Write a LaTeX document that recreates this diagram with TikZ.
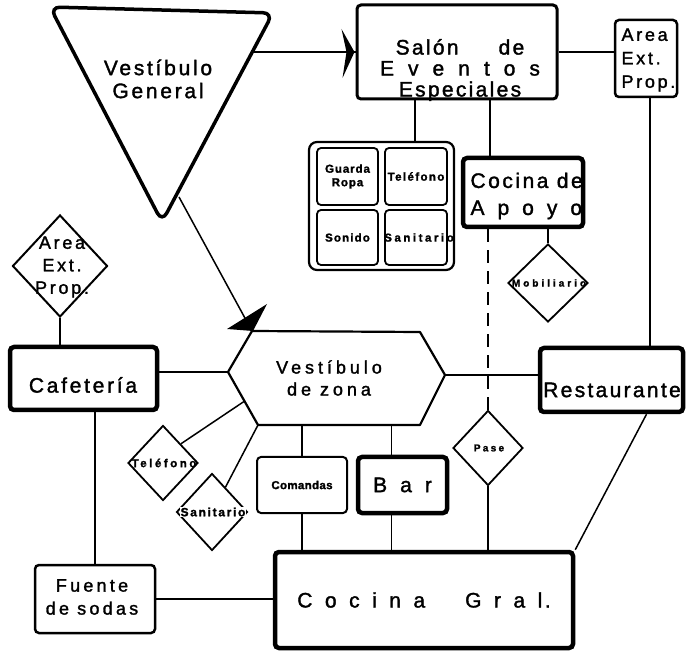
\documentclass[tikz,border=0pt]{standalone}
\usepackage{fontspec}
\setmainfont{Liberation Sans}[FakeBold=1.6]
\usetikzlibrary{shapes.geometric,calc}
\newcommand\lsp[1]{\addfontfeature{LetterSpace=#1}}
\newcommand\wsp[1]{\spaceskip=#1pt\relax}
\begin{document}
\begin{tikzpicture}[x=1pt,y=-1pt,
  box/.style={draw, rounded corners=4pt, inner sep=0pt, align=center},
  dia/.style={draw, diamond, inner sep=0pt, line width=1.8pt},
  conn/.style={line width=1.5pt},
  fbig/.style={font=\fontsize{21}{24}\selectfont\lsp{#1}},
  fsmall/.style={font=\fontsize{11.5}{13.5}\selectfont\bfseries\lsp{#1}},
]
\useasboundingbox (0,0) rectangle (686,652);

% Vestibulo General (triangle)
\coordinate (vgA) at (50,7);
\coordinate (vgB) at (273,13);
\coordinate (vgC) at (162,222);
\draw[line width=3.5pt, rounded corners=10pt] ($(vgA)!0.5!(vgB)$) -- (vgB) -- (vgC) -- (vgA) -- cycle;
\node[font=\fontsize{21}{23}\selectfont\lsp{13}, align=center] (vg) at (158,79) {Vestíbulo\\General};
\coordinate (vgE) at (253,52);
\coordinate (vgS) at (179,197);

% Salon de Eventos Especiales
\node[box, line width=3pt, minimum width=200pt, minimum height=94pt] (salon) at (457,52) {};
\node[font=\fontsize{21}{21}\selectfont\lsp{11}, align=center] (salonT) at (460,70) {Salón\hspace{40pt}de\\\wsp{14}E v e n t o s\\Especiales};

% Area Ext. Prop. (right)
\node[box, line width=2.5pt, minimum width=62pt, minimum height=77pt] (areaR) at (646,58.5) {};
\node[font=\fontsize{18}{23.5}\selectfont\lsp{15}, align=left, anchor=west] (areaRT) at (618,60) {Area\\Ext.\\Prop.};

% group of four
\node[box, line width=2.2pt, rounded corners=8pt, minimum width=145pt, minimum height=128pt] (grp) at (381.5,206) {};
\node[box, line width=1.8pt, minimum width=61pt, minimum height=57pt, fsmall=8] (guarda) at (347.5,176.5) {Guarda\\Ropa};
\node[box, line width=1.8pt, minimum width=62pt, minimum height=57pt, fsmall=12] (telefG) at (416,176.5) {\makebox[0pt]{Teléfono}};
\node[box, line width=1.8pt, minimum width=61pt, minimum height=55pt, fsmall=10] (sonido) at (347.5,237.5) {Sonido};
\node[box, line width=1.8pt, minimum width=62pt, minimum height=55pt, fsmall=22] (sanitG) at (416,237.5) {\makebox[0pt]{\hspace{6pt}Sanitario}};

% Cocina de Apoyo
\node[box, line width=4.5pt, minimum width=120pt, minimum height=69pt] (apoyo) at (523,192.5) {};
\node[font=\fontsize{21}{27}\selectfont\lsp{12}, align=left, anchor=west] (apoyoT) at (467,196) {Cocina de\\\wsp{13}A p o y o};

% Mobiliario
\node[dia, minimum width=80pt, minimum height=78pt] (mobil) at (548,283) {};
\node[font=\fontsize{10}{12}\selectfont\bfseries\lsp{30}] (mobilT) at (549,283) {Mobiliario};

% Pase
\node[dia, minimum width=70pt, minimum height=75pt] (pase) at (488,448) {};
\node[font=\fontsize{10}{12}\selectfont\bfseries\lsp{23}] (paseT) at (489,448) {Pase};

% Cocina Gral.
\node[box, line width=4.5pt, minimum width=298pt, minimum height=96pt, font=\fontsize{21}{24}\selectfont\lsp{12}] (gral) at (424,600) {\wsp{12.5}C o c i n a\hspace{40pt}G r a l.};

% Restaurante
\node[box, line width=4.5pt, minimum width=143pt, minimum height=64pt] (rest) at (611.5,380) {};
\node[fbig=11] (restT) at (612,390) {Restaurante};

% Cafeteria
\node[box, line width=4.5pt, minimum width=147pt, minimum height=63pt] (cafe) at (83.5,378.5) {};
\node[fbig=13] (cafeT) at (83,385) {Cafetería};

% Vestibulo de zona (hexagon)
\coordinate (hA) at (252,331);
\coordinate (hB) at (420,332);
\coordinate (hC) at (445,375);
\coordinate (hD) at (420,425);
\coordinate (hE) at (258,425);
\coordinate (hF) at (228,372);
\draw[line width=2.2pt, line join=round] (hA) -- (hB) -- (hC) -- (hD) -- (hE) -- (hF) -- cycle;
\node[font=\fontsize{18}{22}\selectfont\lsp{22}, align=center] (vz) at (329,378) {Vestíbulo\\de zona};

% Area Ext. Prop. (left diamond)
\node[dia, line width=2pt, minimum width=95pt, minimum height=102pt] (areaL) at (60,266) {};
\node[font=\fontsize{18}{22.5}\selectfont\lsp{15}, align=center] (areaLT) at (62,267) {Area\\Ext.\\Prop.};

% Fuente de sodas
\node[box, line width=2.5pt, minimum width=120pt, minimum height=68pt] (fuente) at (95,599) {};
\node[font=\fontsize{18}{23}\selectfont\lsp{18}, align=center] (fuenteT) at (92,597) {Fuente\\de sodas};

% Telefono / Sanitario diamonds
\node[dia, minimum width=70pt, minimum height=75pt] (telef2) at (163,463) {};
\node[font=\fontsize{11.5}{13}\selectfont\bfseries\lsp{22}] (telef2T) at (164,463) {Teléfono};
\node[dia, minimum width=71pt, minimum height=77pt] (sanit2) at (212,512) {};
\node[font=\fontsize{12}{14}\selectfont\bfseries\lsp{14}, fill=white, inner sep=1pt] (sanit2T) at (213,512) {Sanitario};

% Comandas, Bar
\node[box, line width=2pt, minimum width=90pt, minimum height=56pt, fsmall=3] (comandas) at (302,485) {Comandas};
\node[box, line width=4.5pt, minimum width=89pt, minimum height=56pt, font=\fontsize{21}{24}\selectfont\lsp{12}] (bar) at (402.5,485) {\wsp{13}B a r};

% connectors
\draw[conn] (vgE) -- (salon.west);
\fill[shift={(salon.west)}] (-14,-23) -- (-1,0) -- (-13,26) -- (-9,0) -- cycle;
\draw[conn] (salon.east) -- (salon.east -| areaR.west);
\coordinate (aR) at ($(areaR.south)+(4,0)$);
\draw[conn] (aR) -- (aR |- rest.north);
\coordinate (sG) at ($(salon.south)+(-42,0)$);
\draw[conn] (sG) -- (sG |- grp.north);
\coordinate (sA) at ($(salon.south)+(33,0)$);
\draw[conn] (sA) -- (sA |- apoyo.north);
\draw[conn] (apoyo.south -| mobil.north) -- (mobil.north);
\draw[conn, dash pattern=on 13pt off 8pt] (apoyo.south -| pase.north) -- (pase.north);
\draw[conn] (pase.south) -- (pase.south |- gral.north);
\draw[conn] (vgS) -- (hA);
\fill[shift={(hA)}] (-25,-2) -- (15,-27) -- (1,0) -- cycle;
\draw[conn] (areaL.south) -- (areaL.south |- cafe.north);
\draw[conn] (cafe.east |- hF) -- (hF);
\draw[conn] (cafe.south -| fuente.north) -- (fuente.north);
\draw[conn] (fuente.east) -- (fuente.east -| gral.west);
\draw[conn] ($(hF)!0.55!(hE)$) -- (telef2.north east);
\draw[conn] (hE) -- ($(sanit2.north)!0.37!(sanit2.east)$);
\draw[conn] (comandas.north |- hE) -- (comandas.north);
\draw[conn] (comandas.south) -- (comandas.south |- gral.north);
\coordinate (bX) at ($(bar.north)+(-11,0)$);
\draw[conn] (bX |- hE) -- (bX);
\coordinate (bY) at ($(bar.south)+(-11,0)$);
\draw[conn] (bY) -- (bY |- gral.north);
\draw[conn] (hC) -- (hC -| rest.west);
\draw[conn] ($(rest.south)+(35,0)$) -- (gral.north east);
\end{tikzpicture}
\end{document}
